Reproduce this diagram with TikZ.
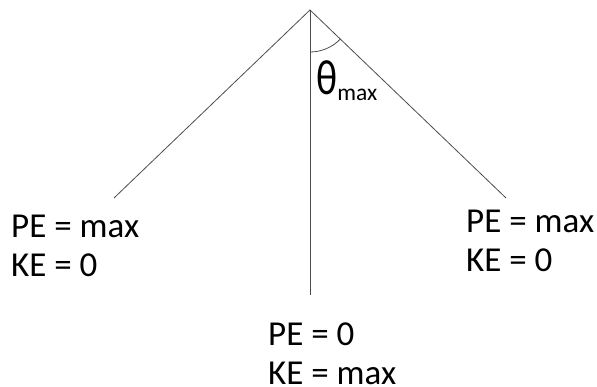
\documentclass[tikz,border=0pt]{standalone}
\usepackage{fontspec}
\setmainfont{Carlito}
\begin{document}
\begin{tikzpicture}[x=1pt,y=1pt,
  rod/.style={draw=black!70,line width=0.8pt},
  lbl/.style={inner sep=0pt,anchor=base west,align=left,font=\fontsize{35}{39}\selectfont}]
\useasboundingbox (0,0) rectangle (597,387);
\coordinate (apex) at (310,377);
\coordinate (lend) at (114,189);
\coordinate (rend) at (506,189);
\coordinate (bend) at (310,92);
\draw[rod] (lend) -- (apex) -- (rend);
\draw[rod] (apex) -- (bend);
\draw[rod] ([shift={(-90:42)}]apex) arc[start angle=-90,end angle=-43.8,radius=42];
\node[lbl] (left) at (11,110) {PE = max\\KE = 0};
\node[lbl] (right) at (466,115) {PE = max\\KE = 0};
\node[lbl] (mid) at (268,2.5) {PE = 0\\KE = max};
\node[inner sep=0pt,anchor=base west,font=\fontsize{33}{36}\selectfont] (theta) at (316,292)
  {\scalebox{1.2}[1.5]{θ}\raisebox{-6pt}{\fontsize{23.5}{24}\selectfont max}};
\end{tikzpicture}
\end{document}
